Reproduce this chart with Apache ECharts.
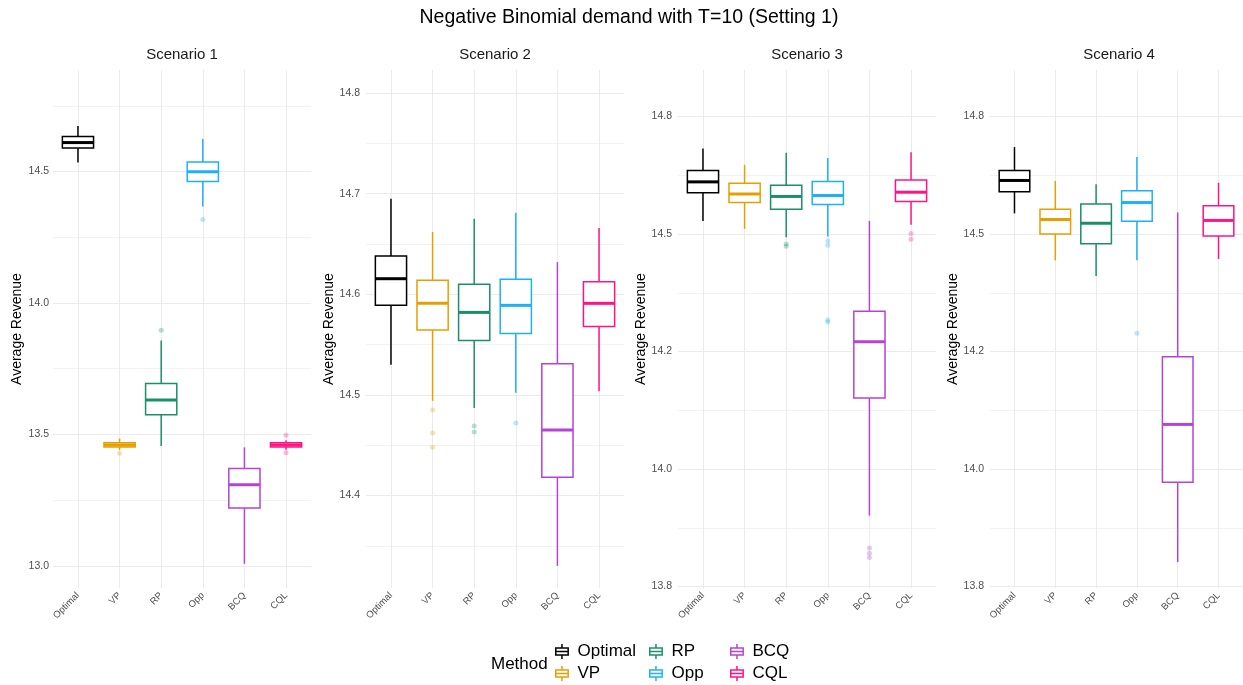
<!DOCTYPE html>
<html>
<head>
<meta charset="utf-8">
<script src="https://cdn.jsdelivr.net/npm/echarts@6/dist/echarts.min.js"></script>
<style>
html,body{margin:0;padding:0;background:#fff;}
#chart{width:1243px;height:685px;}
</style>
</head>
<body>
<div id="chart"></div>
<script>
// ---------------- data ----------------
const methods = ['Optimal', 'VP', 'RP', 'Opp', 'BCQ', 'CQL'];
const methodColors = ['#000000', '#E69F00', '#1B8F6A', '#1FB0FA', '#B444D4', '#FF1486'];
const scenarioNames = ['Scenario 1', 'Scenario 2', 'Scenario 3', 'Scenario 4'];
const mainTitle = 'Negative Binomial demand with T=10 (Setting 1)';
const yTitle = 'Average Revenue';
const legendTitle = 'Method';

// five-number summaries per method: [lower whisker, Q1, median, Q3, upper whisker]
const s1Stats = [
  [14.534, 14.589, 14.610, 14.633, 14.673],
  [13.441, 13.452, 13.460, 13.468, 13.484],
  [13.456, 13.575, 13.631, 13.694, 13.857],
  [14.367, 14.462, 14.499, 14.536, 14.624],
  [13.008, 13.220, 13.309, 13.370, 13.451],
  [13.442, 13.452, 13.460, 13.468, 13.478]
];
const s2Stats = [
  [14.530, 14.589, 14.6155, 14.638, 14.695],
  [14.494, 14.5645, 14.591, 14.614, 14.662],
  [14.487, 14.554, 14.582, 14.610, 14.675],
  [14.502, 14.561, 14.589, 14.615, 14.681],
  [14.330, 14.418, 14.465, 14.531, 14.632],
  [14.5036, 14.568, 14.591, 14.6125, 14.666]
];
const s3Stats = [
  [14.528, 14.588, 14.611, 14.635, 14.682],
  [14.511, 14.567, 14.585, 14.608, 14.647],
  [14.493, 14.553, 14.580, 14.604, 14.673],
  [14.495, 14.563, 14.582, 14.612, 14.662],
  [13.901, 14.151, 14.271, 14.336, 14.528],
  [14.520, 14.569, 14.589, 14.615, 14.674]
];
const s4Stats = [
  [14.544, 14.590, 14.614, 14.635, 14.685],
  [14.444, 14.500, 14.531, 14.553, 14.613],
  [14.411, 14.4795, 14.523, 14.564, 14.606],
  [14.444, 14.527, 14.567, 14.592, 14.664],
  [13.802, 13.972, 14.095, 14.239, 14.546],
  [14.447, 14.496, 14.529, 14.560, 14.609]
];

// outliers: [methodIndex, value]
const s1Outliers = [[1, 13.428], [2, 13.896], [3, 14.317], [5, 13.497], [5, 13.430]];
const s2Outliers = [[1, 14.485], [1, 14.462], [1, 14.448], [2, 14.469], [2, 14.463], [3, 14.472]];
const s3Outliers = [[2, 14.479], [2, 14.474], [3, 14.486], [3, 14.476], [3, 14.317], [3, 14.313],
                    [4, 13.832], [4, 13.821], [4, 13.812], [5, 14.501], [5, 14.489]];
const s4Outliers = [[3, 14.289]];

// y tick values / labels / minor grid values
const s1Ticks = [13.0, 13.5, 14.0, 14.5];
const s1TickLabels = ['13.0', '13.5', '14.0', '14.5'];
const s1Minor = [13.25, 13.75, 14.25, 14.75];
const s2Ticks = [14.4, 14.5, 14.6, 14.7, 14.8];
const s2TickLabels = ['14.4', '14.5', '14.6', '14.7', '14.8'];
const s2Minor = [14.35, 14.45, 14.55, 14.65, 14.75];
const s3Ticks = [13.75, 14.0, 14.25, 14.5, 14.75];
const s3TickLabels = ['13.8', '14.0', '14.2', '14.5', '14.8'];
const s3Minor = [13.875, 14.125, 14.375, 14.625];
const s4Ticks = [13.75, 14.0, 14.25, 14.5, 14.75];
const s4TickLabels = ['13.8', '14.0', '14.2', '14.5', '14.8'];
const s4Minor = [13.875, 14.125, 14.375, 14.625];

// y axis extents
const s1Range = [12.916, 14.886];
const s2Range = [14.308, 14.823];
const s3Range = [13.747, 14.849];
const s4Range = [13.747, 14.849];

// ---------------- layout ----------------
const FONT = '"Liberation Sans", Arial, Helvetica, sans-serif';
const panels = [
  {stats: s1Stats, out: s1Outliers, ticks: s1Ticks, labels: s1TickLabels, minor: s1Minor, range: s1Range, left: 53, nameGap: 29, margin: 4},
  {stats: s2Stats, out: s2Outliers, ticks: s2Ticks, labels: s2TickLabels, minor: s2Minor, range: s2Range, left: 366, nameGap: 30, margin: 6},
  {stats: s3Stats, out: s3Outliers, ticks: s3Ticks, labels: s3TickLabels, minor: s3Minor, range: s3Range, left: 678, nameGap: 30, margin: 6},
  {stats: s4Stats, out: s4Outliers, ticks: s4Ticks, labels: s4TickLabels, minor: s4Minor, range: s4Range, left: 990, nameGap: 30, margin: 6}
];
const PW = 258, PT = 70, PH = 518;
const BOX_W = 0.75;
const catIdx = methods.map((m, i) => i);

const grids = [], xAxes = [], yAxes = [], series = [], graphics = [];

function renderBox(params, api) {
  const x = api.value(0);
  const color = api.visual('color');
  const half = api.size([BOX_W, 0])[0] / 2;
  const pMin = api.coord([x, api.value(1)]);
  const pQ1 = api.coord([x, api.value(2)]);
  const pMed = api.coord([x, api.value(3)]);
  const pQ3 = api.coord([x, api.value(4)]);
  const pMax = api.coord([x, api.value(5)]);
  const lw = 1.5;
  return {
    type: 'group',
    children: [
      {type: 'line', shape: {x1: pMax[0], y1: pMax[1], x2: pQ3[0], y2: pQ3[1]}, style: {stroke: color, lineWidth: lw}},
      {type: 'line', shape: {x1: pQ1[0], y1: pQ1[1], x2: pMin[0], y2: pMin[1]}, style: {stroke: color, lineWidth: lw}},
      {type: 'rect', shape: {x: pQ3[0] - half, y: pQ3[1], width: 2 * half, height: Math.max(pQ1[1] - pQ3[1], 0.5)},
       style: {fill: '#ffffff', stroke: color, lineWidth: lw}},
      {type: 'line', shape: {x1: pMed[0] - half, y1: pMed[1], x2: pMed[0] + half, y2: pMed[1]}, style: {stroke: color, lineWidth: 3}}
    ]
  };
}

panels.forEach((p, g) => {
  grids.push({left: p.left, top: PT, width: PW, height: PH, containLabel: false});
  xAxes.push({
    gridIndex: g, type: 'value', min: -0.6, max: 5.6,
    axisLine: {show: false},
    axisTick: {show: false, customValues: catIdx},
    splitLine: {show: true, lineStyle: {color: '#EBEBEB', width: 1}},
    axisLabel: {
      customValues: catIdx, rotate: 45, margin: 6,
      fontFamily: FONT, fontSize: 9.5, color: '#4D4D4D',
      formatter: v => methods[Math.round(v)]
    }
  });
  // major y axis
  yAxes.push({
    gridIndex: g, type: 'value', min: p.range[0], max: p.range[1],
    name: yTitle, nameLocation: 'middle', nameRotate: 90, nameGap: p.nameGap,
    nameTextStyle: {fontFamily: FONT, fontSize: 14, color: '#000'},
    axisLine: {show: false},
    axisTick: {show: false, customValues: p.ticks},
    splitLine: {show: true, lineStyle: {color: '#EBEBEB', width: 1}},
    axisLabel: {
      customValues: p.ticks, margin: p.margin,
      fontFamily: FONT, fontSize: 10.5, color: '#4D4D4D',
      formatter: v => {
        const k = p.ticks.findIndex(t => Math.abs(t - v) < 1e-9);
        return k >= 0 ? p.labels[k] : '';
      }
    }
  });
  // minor y axis (grid only)
  yAxes.push({
    gridIndex: g, type: 'value', min: p.range[0], max: p.range[1], position: 'left',
    axisLine: {show: false},
    axisTick: {show: false, customValues: p.minor},
    axisLabel: {show: false},
    splitLine: {show: true, lineStyle: {color: '#F2F2F2', width: 1}},
    z: 0
  });

  p.stats.forEach((st, i) => {
    series.push({
      type: 'custom', name: methods[i], xAxisIndex: g, yAxisIndex: 2 * g,
      itemStyle: {color: methodColors[i]},
      renderItem: renderBox,
      encode: {x: 0, y: [1, 2, 3, 4, 5]},
      data: [[i].concat(st)],
      z: 3, silent: true
    });
    const pts = p.out.filter(o => o[0] === i);
    if (pts.length) {
      series.push({
        type: 'scatter', name: methods[i], xAxisIndex: g, yAxisIndex: 2 * g,
        symbolSize: 5, itemStyle: {color: methodColors[i], opacity: 0.3},
        data: pts, z: 2, silent: true
      });
    }
  });

  graphics.push({
    type: 'text', x: p.left + PW / 2, y: 55,
    style: {text: scenarioNames[g], fontFamily: FONT, fontSize: 15, fill: '#1A1A1A', align: 'center', verticalAlign: 'middle'}
  });
});

graphics.push({
  type: 'text', x: 629, y: 18,
  style: {text: mainTitle, fontFamily: FONT, fontSize: 19.5, fill: '#000', align: 'center', verticalAlign: 'middle'}
});
graphics.push({
  type: 'text', x: 491, y: 664,
  style: {text: legendTitle, fontFamily: FONT, fontSize: 17, fill: '#000', align: 'left', verticalAlign: 'middle'}
});

const boxIcon = 'path://M6.3,0H7.7V3H6.3Z M0.5,3H13.5V11H0.5Z M1.9,4.4V9.6H12.1V4.4Z M1.9,6.3H12.1V7.7H1.9Z M6.3,11H7.7V14H6.3Z';
function legendCol(names, left) {
  return {
    orient: 'vertical', left: left, top: 643, padding: 0,
    itemWidth: 15, itemHeight: 15, itemGap: 5,
    icon: boxIcon, selectedMode: false,
    textStyle: {fontFamily: FONT, fontSize: 17, color: '#000', padding: [0, 0, 0, 3]},
    data: names
  };
}

const option = {
  animation: false,
  backgroundColor: '#ffffff',
  grid: grids,
  xAxis: xAxes,
  yAxis: yAxes,
  series: series,
  legend: [
    legendCol(['Optimal', 'VP'], 555),
    legendCol(['RP', 'Opp'], 649),
    legendCol(['BCQ', 'CQL'], 730)
  ],
  graphic: graphics
};

const chart = echarts.init(document.getElementById('chart'), null, {renderer: 'canvas'});
chart.setOption(option);
</script>
</body>
</html>
